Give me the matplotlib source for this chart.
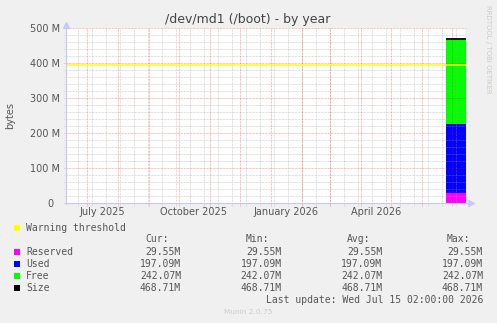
import datetime as dt
import matplotlib
matplotlib.use("Agg")
import matplotlib.pyplot as plt
import matplotlib.dates as mdates
from matplotlib.patches import Rectangle

# data (values in M)
dates = [dt.datetime(2026, 6, 25, 2), dt.datetime(2026, 7, 15, 2)]
reserved = [29.55, 29.55]
used = [197.09, 197.09]
free = [242.07, 242.07]
size = [468.71, 468.71]
warning = 395

legend_names = ["Reserved", "Used", "Free", "Size"]
legend_colors = ["#ff00ff", "#0000ff", "#00ff00", "#000000"]
cur = ["29.55M", "197.09M", "242.07M", "468.71M"]
mins = ["29.55M", "197.09M", "242.07M", "468.71M"]
avgs = ["29.55M", "197.09M", "242.07M", "468.71M"]
maxs = ["29.55M", "197.09M", "242.07M", "468.71M"]

month_labels = ["July 2025", "October 2025", "January 2026", "April 2026"]
label_dates = [dt.datetime(2025, 7, 16), dt.datetime(2025, 10, 16),
               dt.datetime(2026, 1, 16), dt.datetime(2026, 4, 16)]

end = dt.datetime(2026, 7, 15, 2)
start = end - dt.timedelta(days=400)

W, H = 497, 323
fig = plt.figure(figsize=(W / 100, H / 100), dpi=100, facecolor="#f0f0f0")

def fx(x):
    return x / W

def fy(y):
    return 1 - y / H

ax = fig.add_axes([fx(66), fy(203.3), 400 / W, 175 / H])
ax.set_facecolor("white")
x0, x1 = mdates.date2num(start), mdates.date2num(end)
ax.set_xlim(x0, x1)
ax.set_ylim(0, 500)
for s in ax.spines.values():
    s.set_visible(False)

# stacked areas
xd = mdates.date2num(dates)
b1 = [r + u for r, u in zip(reserved, used)]
b2 = [a + f for a, f in zip(b1, free)]
ax.fill_between(xd, 0, reserved, color="#ff00ff", lw=0, zorder=1)
ax.fill_between(xd, reserved, b1, color="#0000ff", lw=0, zorder=1)
ax.fill_between(xd, b1, b2, color="#00ff00", lw=0, zorder=1)
ax.plot(xd, size, color="black", lw=1.3, zorder=4, solid_capstyle="butt")
ax.axhline(warning, color="#ffff00", lw=1.1, zorder=4)

# grid
dot = (0, (0.72, 0.72))
for v in range(0, 501, 20):
    if v % 100 == 0:
        ax.axhline(v, xmin=-0.006, color="#ff0000", alpha=0.35, lw=0.72, ls=dot, zorder=3, clip_on=False)
    else:
        ax.axhline(v, xmin=-0.006, color="#a0a0a0", alpha=0.45, lw=0.72, ls=dot, zorder=3, clip_on=False)

d = dt.datetime(2025, 6, 22)
while d < end:
    ax.axvline(mdates.date2num(d), ymin=-0.017, color="#a0a0a0", alpha=0.45, lw=0.72, ls=dot, zorder=3, clip_on=False)
    d += dt.timedelta(days=14)

y, m = 2025, 7
while dt.datetime(y, m, 1) < end:
    ax.axvline(mdates.date2num(dt.datetime(y, m, 1)), ymin=-0.017, color="#ff0000", alpha=0.35,
               lw=0.72, ls=dot, zorder=3, clip_on=False)
    m += 1
    if m > 12:
        m, y = 1, y + 1

# right edge line
ax.axvline(x1, color="#909090", lw=0.8, zorder=5)

# axes with arrows
axc = "#c8c8f8"
ax.plot([x0, x1 + 4], [0, 0], color=axc, lw=0.8, clip_on=False, zorder=6)
ax.plot([x0, x0], [-3, 505], color=axc, lw=0.8, clip_on=False, zorder=6)
ax.plot([x1 + 5], [0], marker=">", color=axc, ms=5, clip_on=False, zorder=6)
ax.plot([x0], [510], marker="^", color=axc, ms=5, clip_on=False, zorder=6)

txt = "#555555"
ax.set_yticks(range(0, 501, 100))
ax.set_yticklabels(["0  "] + ["%d M" % v for v in range(100, 501, 100)])
ax.set_xticks(mdates.date2num(label_dates))
ax.set_xticklabels(month_labels)
ax.tick_params(length=0, labelsize=7, colors=txt, pad=4.3)
ax.tick_params(axis="x", pad=2.5)

fig.text(fx(10), fy(116), "bytes", rotation=90, ha="center", va="center", fontsize=7, color=txt)
fig.text(fx(248), fy(19), "/dev/md1 (/boot) - by year", ha="center", va="center", fontsize=9, color="#444444")
fig.text(fx(488), fy(5), "RRDTOOL / TOBI OETIKER", rotation=270, ha="center", va="top", fontsize=5, color="#cccccc")

# legend
mono = dict(family="DejaVu Sans Mono", fontsize=7, color=txt, va="center")

def square(y, c):
    fig.patches.append(Rectangle((fx(14), fy(y + 3)), 6 / W, 6 / H, transform=fig.transFigure,
                                 color=c, lw=0))

square(227.7, "#ffff00")
fig.text(fx(26), fy(227.7), "Warning threshold", ha="left", **mono)
for x, h in zip([145, 246, 346.7, 446.7], ["Cur:", "Min:", "Avg:", "Max:"]):
    fig.text(fx(x), fy(239.5), h, ha="left", **mono)
for i, name in enumerate(legend_names):
    yy = 251.7 + 12 * i
    square(yy, legend_colors[i])
    fig.text(fx(26), fy(yy), name, ha="left", **mono)
    for x, col in zip([181, 281.7, 382.3, 483], [cur, mins, avgs, maxs]):
        fig.text(fx(x), fy(yy), col[i], ha="right", **mono)
fig.text(fx(483), fy(299.7), "Last update: Wed Jul 15 02:00:00 2026", ha="right", **mono)
fig.text(fx(248), fy(311.7), "Munin 2.0.75", ha="center", va="center", fontsize=5.3, color="#cccccc")

fig.savefig("out.png", dpi=100, facecolor=fig.get_facecolor())
